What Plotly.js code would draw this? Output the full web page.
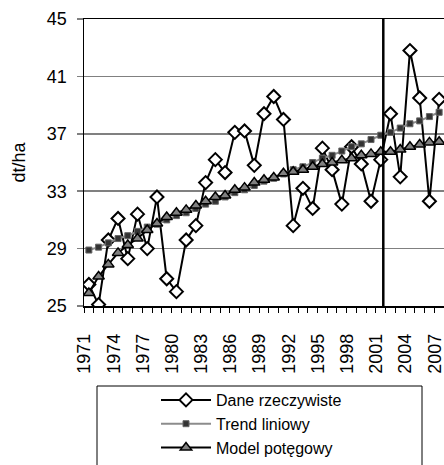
<!DOCTYPE html>
<html>
<head>
<meta charset="utf-8">
<script src="https://cdn.plot.ly/plotly-3.0.1.min.js"></script>
<style>html,body{margin:0;padding:0;background:#fff;}#chart{width:444px;height:465px;}</style>
</head>
<body>
<div id="chart"></div>
<script>
const years = [1971,1972,1973,1974,1975,1976,1977,1978,1979,1980,1981,1982,1983,1984,1985,1986,1987,1988,1989,1990,1991,1992,1993,1994,1995,1996,1997,1998,1999,2000,2001,2002,2003,2004,2005,2006,2007];
const actual = [26.5,25.1,29.6,31.1,28.3,31.4,29.0,32.6,26.9,26.0,29.6,30.6,33.6,35.2,34.3,37.1,37.2,34.8,38.4,39.6,38.0,30.6,33.2,31.8,36.0,34.5,32.1,36.1,34.9,32.3,35.2,38.4,34.0,42.8,39.5,32.3,39.4];
const trend = [28.9,29.1,29.4,29.7,29.9,30.2,30.5,30.7,31.0,31.3,31.5,31.8,32.1,32.3,32.6,32.9,33.1,33.4,33.7,33.9,34.2,34.5,34.7,35.0,35.3,35.5,35.8,36.1,36.3,36.6,36.9,37.1,37.4,37.7,37.9,38.2,38.5];
const powerModel = [25.9,27.05,27.9,28.7,29.25,29.7,30.3,30.75,31.2,31.5,31.7,32.0,32.3,32.6,32.7,33.1,33.25,33.6,33.8,33.95,34.25,34.35,34.5,34.7,34.9,35.0,35.15,35.3,35.5,35.6,35.75,35.75,35.9,36.1,36.25,36.4,36.45];
const tickYears = [1971,1974,1977,1980,1983,1986,1989,1992,1995,1998,2001,2004,2007];
const yTicks = [25,29,33,37,41,45];
const markerYear = 2001.26;
const labelShift = 0.45;
const names = ["Dane rzeczywiste","Trend liniowy","Model potęgowy"];

const traces = [
  {x: years, y: actual, name: names[0], type:'scatter', mode:'lines+markers',
   line:{color:'#000', width:2},
   marker:{symbol:'diamond', size:10, color:'#fff', line:{color:'#000', width:2}}},
  {x: years, y: trend, name: names[1], type:'scatter', mode:'lines+markers',
   line:{color:'#8c8c8c', width:2},
   marker:{symbol:'square', size:6, color:'#333', line:{color:'#666', width:1}}},
  {x: years, y: powerModel, name: names[2], type:'scatter', mode:'lines+markers',
   line:{color:'#000', width:2},
   marker:{symbol:'triangle-up', size:10, color:'#808080', line:{color:'#000', width:1.5}}}
];

const layout = {
  width:444, height:465,
  margin:{l:84, r:0, t:19, b:159, autoexpand:false},
  paper_bgcolor:'#fff', plot_bgcolor:'#fff',
  font:{family:'Liberation Sans, Arial, sans-serif', size:18, color:'#000'},
  showlegend:true,
  legend:{x:0.2, y:(465-383)/465, yref:'container', xanchor:'left', yanchor:'top', bgcolor:'rgba(0,0,0,0)',
          borderwidth:0, font:{size:16}, itemwidth:50, tracegroupgap:0},
  xaxis:{range:[1970.5,2007.5], tickmode:'array', tickvals:tickYears.map(v => v - labelShift), ticktext:tickYears.map(String),
         tickangle:-90, ticks:'', showgrid:false, zeroline:false, ticklabeloverflow:'allow', automargin:false,
         ticklabelstandoff:19,
         showline:true, linecolor:'#000', linewidth:1.5, mirror:true,
         minor:{tickmode:'linear', tick0:1970.5, dtick:1, ticks:'outside', ticklen:5, tickcolor:'#000', showgrid:false},
         tickfont:{size:18}},
  yaxis:{range:[25,45], tickmode:'array', tickvals:yTicks, ticks:'outside', ticklen:6, tickcolor:'#808080', tickwidth:1.5,
         ticklabelstandoff:6, automargin:false,
         showgrid:true, gridcolor:'#808080', gridwidth:1.5, zeroline:false,
         showline:true, linecolor:'#000', linewidth:1.5,
         title:{text:'dt/ha', font:{size:18}, standoff:16}, tickfont:{size:18}},
  shapes:[
    {type:'line', xref:'x', yref:'paper', x0:markerYear, x1:markerYear, y0:0, y1:1, line:{color:'#000', width:2.5}},
    {type:'rect', xref:'paper', yref:'paper', x0:(97-84)/360, x1:(422-84)/360, y0:(306-386)/287, y1:(306-470)/287,
     line:{color:'#000', width:1}, fillcolor:'rgba(0,0,0,0)'}
  ]
};
Plotly.newPlot('chart', traces, layout, {staticPlot:true, displayModeBar:false});
</script>
</body>
</html>
